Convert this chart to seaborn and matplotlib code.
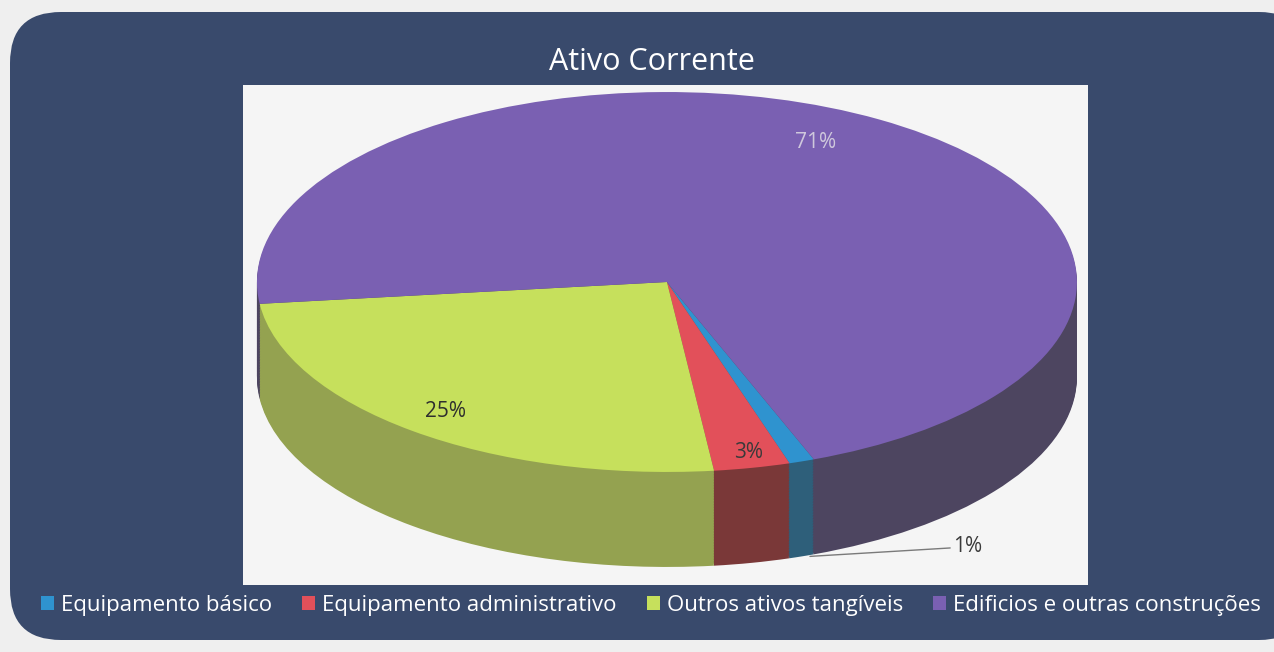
import numpy as np
import seaborn as sns
import matplotlib
matplotlib.use('Agg')
import matplotlib.pyplot as plt
from matplotlib.patches import FancyBboxPatch, Patch

sns.set_theme(style='white')
plt.rcParams['font.family'] = ['Open Sans', 'DejaVu Sans']

title = 'Ativo Corrente'
categories = ['Equipamento básico', 'Equipamento administrativo',
              'Outros ativos tangíveis', 'Edificios e outras construções']
values = [1, 3, 25, 71]
pct_labels = ['1%', '3%', '25%', '71%']
top_colors = ['#2f93cf', '#e2505a', '#c6e05c', '#7a60b2']
side_colors = ['#2e5f7a', '#7a3838', '#94a250', '#4d4560']
label_colors = ['#3a3a3a', '#3a3a3a', '#2e2e2e', '#cfc8dc']

panel = '#394a6c'
start = 291
depth = 0.5

fig = plt.figure(figsize=(12.74, 6.52), dpi=100, facecolor='#efefef')
fig.patches.append(FancyBboxPatch((10 / 1274, 12 / 652), 1300 / 1274, 628 / 652,
                                  boxstyle='round,pad=0,rounding_size=0.04',
                                  transform=fig.transFigure, facecolor=panel,
                                  edgecolor='none', zorder=-5,
                                  mutation_aspect=1274 / 652))

ax = fig.add_axes([243 / 1274, (652 - 585) / 652, 845 / 1274, 500 / 652])
ax.set_zorder(2)
ax.set_facecolor('#f5f5f5')

# side walls: stacked pies shifted downward
for k in np.linspace(-depth, -0.01, 60):
    ax.pie(values, colors=side_colors, startangle=start, counterclock=False,
           center=(0, k), radius=1, wedgeprops=dict(linewidth=0), frame=True)

wedges, _ = ax.pie(values, colors=top_colors, startangle=start, counterclock=False,
                   center=(0, 0), radius=1, wedgeprops=dict(linewidth=0), frame=True)

ax.set_aspect('auto')
ax.set_xlim(-1.034, 1.027)
ax.set_ylim(-1.595, 1.037)
ax.set_xticks([])
ax.set_yticks([])
for s in ax.spines.values():
    s.set_visible(False)

# percentage labels (radius factor, angle tweak in degrees)
rads = [None, 0.92, 0.87, 0.82]
shifts = [0, 0.5, 0, 5]
for w, lab, col, r, sh in zip(wedges, pct_labels, label_colors, rads, shifts):
    mid = np.deg2rad((w.theta1 + w.theta2) / 2 + sh)
    if r is None:
        x0, y0 = np.cos(mid), np.sin(mid) - depth
        ax.annotate(lab, xy=(x0 + 0.02, y0), xytext=(x0 + 0.37, y0 + 0.05),
                    fontsize=15, color=col, va='center', ha='left',
                    arrowprops=dict(arrowstyle='-', color='#7a7a7a', lw=1,
                                    shrinkA=0, shrinkB=0))
    else:
        ax.text(r * np.cos(mid), r * np.sin(mid), lab, fontsize=15, color=col,
                ha='center', va='center')

fig.text(0.512, 0.905, title, color='white', fontsize=22, ha='center', va='center')

handles = [Patch(facecolor=c, edgecolor='none') for c in top_colors]
fig.legend(handles, categories, loc='center left', bbox_to_anchor=(41 / 1274, 1 - 605 / 652),
           ncol=4, frameon=False, fontsize=16, labelcolor='white',
           borderpad=0, borderaxespad=0,
           handlelength=0.6, handleheight=0.6, handletextpad=0.3, columnspacing=1.35)

fig.savefig('out.png', dpi=100, facecolor=fig.get_facecolor())
